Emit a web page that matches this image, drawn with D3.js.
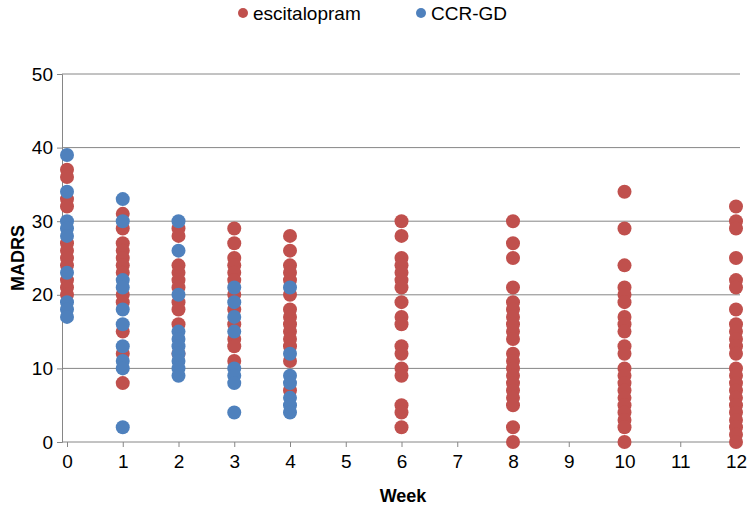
<!DOCTYPE html>
<html><head><meta charset="utf-8">
<script src="https://cdn.jsdelivr.net/npm/d3@7"></script>
<style>body{margin:0;background:#fff}</style>
</head><body>
<script>
const seriesNames = ["escitalopram", "CCR-GD"];
const seriesColors = ["#C0504D", "#4F81BD"];
const xTicks = [0,1,2,3,4,5,6,7,8,9,10,11,12];
const yTicks = [0,10,20,30,40,50];

// escitalopram: [week, MADRS]
const escWeeks = [0,1,2,3,4,6,8,10,12];
const escValues = [
  [37,36,33,32,27,26,25,24,22,21,20],
  [31,29,27,26,25,24,23,20,19,15,12,8],
  [29,28,24,23,22,21,19,18,16,12],
  [29,27,25,24,23,22,20,18,16,14,13,11],
  [28,26,24,23,22,20,18,17,16,15,14,13,11,7],
  [30,28,25,24,23,22,21,19,17,16,13,12,10,9,5,4,2],
  [30,27,25,21,19,18,17,16,15,14,12,11,10,9,8,7,6,5,2,0],
  [34,29,24,21,20,19,17,16,15,13,12,10,9,8,7,6,5,4,3,2,0],
  [32,30,29,25,22,21,18,16,15,14,13,12,10,9,8,7,6,5,4,3,2,1,0]
];
// CCR-GD
const ccrWeeks = [0,1,2,3,4];
const ccrValues = [
  [39,34,30,29,28,23,19,18,17],
  [33,30,22,21,18,16,13,11,10,2],
  [30,26,20,15,14,13,12,11,10,9],
  [21,19,17,15,10,9,8,4],
  [21,12,9,8,6,5,4]
];

const W = 750, H = 506;
const FONT = "Arial, 'Liberation Sans', sans-serif";
const svg = d3.select("body").append("svg").attr("width", W).attr("height", H)
  .style("font-family", FONT);

const x = d3.scaleLinear().domain([0, 12]).range([67, 736]);
const y = d3.scaleLinear().domain([0, 50]).range([442, 74]);
const axisLeft = 62, axisRight = 740;

// gridlines
svg.append("g").selectAll("line").data(yTicks.filter(d => d > 0)).join("line")
  .attr("x1", axisLeft).attr("x2", axisRight)
  .attr("y1", d => y(d)).attr("y2", d => y(d))
  .attr("stroke", "#868686").attr("stroke-width", 1);

// y axis
const yAxis = d3.axisLeft(y).tickValues(yTicks).tickSize(5).tickPadding(4);
const gy = svg.append("g").attr("transform", `translate(${axisLeft},0)`).call(yAxis);
gy.select(".domain").attr("stroke", "#868686");
gy.selectAll(".tick line").attr("stroke", "#868686");
gy.selectAll("text").attr("font-size", 19).attr("fill", "#000").style("font-family", FONT);

// x axis
const xAxis = d3.axisBottom(x).tickValues(xTicks).tickSize(5).tickPadding(8).tickFormat(d3.format("d"));
const gx = svg.append("g").attr("transform", `translate(0,${y(0)})`).call(xAxis);
gx.select(".domain").attr("d", `M${axisLeft},0H${axisRight}`).attr("stroke", "#868686");
gx.selectAll(".tick line").attr("stroke", "#868686");
gx.selectAll("text").attr("font-size", 19).attr("fill", "#000").style("font-family", FONT);

// axis titles
svg.append("text").attr("x", (axisLeft + axisRight) / 2 + 2).attr("y", 502)
  .attr("text-anchor", "middle").attr("font-size", 18).attr("font-weight", "bold").text("Week");
svg.append("text").attr("transform", `translate(24,${y(25)}) rotate(-90)`)
  .attr("text-anchor", "middle").attr("font-size", 18).attr("font-weight", "bold").text("MADRS");

// points
function flatten(weeks, vals) {
  const out = [];
  weeks.forEach((w, i) => vals[i].forEach(v => out.push({ w, v })));
  return out;
}
const r = 7;
svg.append("g").selectAll("circle").data(flatten(escWeeks, escValues)).join("circle")
  .attr("cx", d => x(d.w)).attr("cy", d => y(d.v)).attr("r", r).attr("fill", seriesColors[0]);
svg.append("g").selectAll("circle").data(flatten(ccrWeeks, ccrValues)).join("circle")
  .attr("cx", d => x(d.w)).attr("cy", d => y(d.v)).attr("r", r).attr("fill", seriesColors[1]);

// legend
const legendX = [243, 421];
const lg = svg.append("g");
seriesNames.forEach((n, i) => {
  lg.append("circle").attr("cx", legendX[i]).attr("cy", 13).attr("r", 5).attr("fill", seriesColors[i]);
  lg.append("text").attr("x", legendX[i] + 10).attr("y", 20).attr("font-size", 19).attr("fill", "#000").text(n);
});
</script>
</body></html>
